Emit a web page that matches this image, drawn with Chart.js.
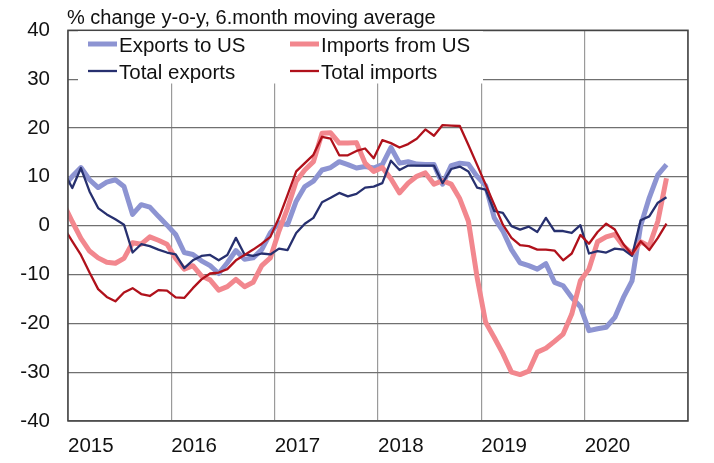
<!DOCTYPE html>
<html>
<head>
<meta charset="utf-8">
<script src="https://cdn.jsdelivr.net/npm/chart.js@4/dist/chart.umd.min.js"></script>
<style>
  html, body { margin: 0; padding: 0; background: #fff; }
</style>
</head>
<body>
<canvas id="chart" width="714" height="463"></canvas>
<script>
'use strict';

// ── Data: monthly, Dec 2014 .. Oct 2020 (first point sits just left of the axis) ──
const START_MONTH = -1;   // months after Jan 2015
const YEARS = ['2015', '2016', '2017', '2018', '2019', '2020'];
const Y_TICKS = [-40, -30, -20, -10, 0, 10, 20, 30, 40];

const exportsToUS = [
  8.0,
  10.1, 11.9, 9.4, 7.8, 8.9, 9.4, 8.0, 2.3, 4.3, 3.8, 1.9, 0.1,
  -1.8, -5.5, -5.9, -7.2, -8.2, -9.8, -7.6, -5.1, -6.9, -6.6, -4.9, -1.5,
  0.6, 0.2, 5.0, 8.0, 9.1, 11.4, 11.9, 13.1, 12.5, 11.8, 12.1, 11.8,
  12.5, 16.0, 12.8, 13.1, 12.6, 12.5, 12.5, 8.5, 12.3, 12.8, 12.6, 10.1,
  8.2, 1.6, -1.1, -4.9, -7.6, -8.2, -8.9, -7.8, -11.6, -12.3, -14.7, -16.6,
  -21.5, -21.1, -20.8, -18.8, -14.7, -11.3, 0.0, 5.7, 10.4, 12.5,
];

const importsFromUS = [
  4.4,
  0.8, -2.6, -5.2, -6.6, -7.5, -7.7, -6.7, -3.5, -3.8, -2.3, -3.0, -3.8,
  -6.7, -8.9, -8.2, -10.3, -11.1, -13.2, -12.5, -11.0, -12.5, -11.6, -8.2, -6.6,
  -1.1, 3.6, 9.1, 11.4, 13.1, 18.9, 19.0, 16.9, 16.9, 17.0, 12.8, 11.1,
  11.9, 9.6, 6.7, 8.7, 10.1, 10.8, 8.5, 9.2, 8.5, 5.5, 0.9, -10.5,
  -19.8, -22.9, -26.2, -30.0, -30.5, -29.8, -25.9, -25.1, -23.7, -22.2, -18.1, -11.3,
  -8.9, -3.3, -2.3, -1.8, -4.2, -5.7, -3.3, -4.2, 0.9, 9.7,
];

const totalExports = [
  11.0,
  7.7, 11.8, 7.0, 3.6, 2.3, 1.3, 0.2, -5.5, -3.8, -4.2, -4.9, -5.5,
  -5.9, -8.7, -7.1, -6.2, -6.0, -7.1, -6.0, -2.5, -5.9, -6.2, -5.7, -5.9,
  -4.7, -5.0, -1.5, 0.4, 1.6, 4.8, 5.7, 6.7, 6.0, 6.5, 7.8, 8.0,
  8.7, 13.3, 11.4, 12.3, 12.3, 12.3, 12.3, 8.7, 11.6, 12.1, 11.1, 7.8,
  7.4, 3.0, 2.6, -0.1, -0.8, -0.2, -1.3, 1.6, -1.1, -1.1, -1.5, 0.1,
  -5.7, -5.2, -5.5, -4.7, -4.9, -6.2, 1.1, 1.9, 4.7, 5.8,
];

const totalImports = [
  -0.4,
  -3.2, -6.0, -9.6, -13.0, -14.6, -15.5, -13.7, -12.8, -14.0, -14.4, -13.2, -13.3,
  -14.7, -14.8, -12.8, -11.0, -9.8, -9.6, -8.9, -7.1, -6.0, -4.9, -3.7, -2.3,
  1.6, 6.3, 11.1, 12.8, 14.5, 18.2, 17.8, 14.4, 14.4, 15.3, 15.8, 13.8,
  17.5, 16.9, 16.0, 16.7, 17.8, 19.7, 18.4, 20.6, 20.5, 20.4, 16.5, 12.5,
  8.4, 4.3, 0.2, -2.5, -4.0, -4.2, -4.9, -4.9, -5.1, -7.1, -5.7, -1.9,
  -3.7, -1.3, 0.4, -0.8, -3.8, -5.9, -3.2, -5.0, -2.5, 0.4,
];

// ── Styling ───────────────────────────────────────────────────────────
const FONT = '"Liberation Sans", Arial, sans-serif';
const TITLE = '% change y-o-y, 6.month moving average';

const SERIES = [
  { label: 'Exports to US',    data: exportsToUS,   color: '#8d94d2', width: 5,   order: 4 },
  { label: 'Imports from US',  data: importsFromUS, color: '#f2878e', width: 5,   order: 3 },
  { label: 'Total exports',    data: totalExports,  color: '#27306f', width: 2.3, order: 2 },
  { label: 'Total imports',    data: totalImports,  color: '#b0111b', width: 2.3, order: 1 },
];

// month index -> mid-month position on the linear x scale
const toPoints = arr => arr.map((v, i) => ({ x: START_MONTH + i + 0.5, y: v }));

// ── Title, legend box and frame drawn on the canvas ───────────────────
const decorPlugin = {
  id: 'decor',
  beforeDatasetsDraw(chart) {
    const ctx = chart.ctx;
    ctx.save();
    ctx.fillStyle = '#fff';
    ctx.fillRect(78, 30.5, 405, 53);
    ctx.restore();
  },
  afterDraw(chart) {
    const ctx = chart.ctx;
    const a = chart.chartArea;
    ctx.save();

    // frame
    ctx.strokeStyle = '#444';
    ctx.lineWidth = 1.5;
    ctx.strokeRect(a.left, a.top, a.right - a.left, a.bottom - a.top);

    // title
    ctx.fillStyle = '#111';
    ctx.font = `20px ${FONT}`;
    ctx.textBaseline = 'alphabetic';
    ctx.textAlign = 'left';
    ctx.fillText(TITLE, 67, 24);

    // legend, 2 x 2
    const cols = [88, 290];
    const rows = [44, 71];
    ctx.font = `20.5px ${FONT}`;
    SERIES.forEach((s, i) => {
      const x = cols[i % 2];
      const y = rows[Math.floor(i / 2)];
      ctx.strokeStyle = s.color;
      ctx.lineWidth = s.width;
      ctx.lineCap = 'butt';
      ctx.beginPath();
      ctx.moveTo(x, y);
      ctx.lineTo(x + 29, y);
      ctx.stroke();
      ctx.fillStyle = '#111';
      ctx.fillText(s.label, x + 31, y + 7.5);
    });
    ctx.restore();
  },
};

// ── Chart ─────────────────────────────────────────────────────────────
new Chart(document.getElementById('chart'), {
  type: 'line',
  data: {
    datasets: SERIES.map(s => ({
      label: s.label,
      data: toPoints(s.data),
      borderColor: s.color,
      backgroundColor: s.color,
      borderWidth: s.width,
      pointRadius: 0,
      tension: 0,
      order: s.order,
      clip: 0,
      borderJoinStyle: 'round',
    })),
  },
  options: {
    responsive: false,
    animation: false,
    devicePixelRatio: 1,
    layout: { padding: { top: 28, right: 26, left: 0, bottom: 0 } },
    plugins: {
      legend: { display: false },
      tooltip: { enabled: false },
    },
    scales: {
      x: {
        type: 'linear',
        min: 0,
        max: 72,
        afterBuildTicks: scale => {
          scale.ticks = YEARS.map((_, i) => ({ value: i * 12 })).concat([{ value: 72 }]);
        },
        afterFit: scale => { scale.height = 42; },
        grid: { color: '#9a9a9a', lineWidth: 1.2, drawTicks: false },
        border: { display: false },
        ticks: {
          align: 'start',
          padding: 13,
          maxRotation: 0,
          autoSkip: false,
          color: '#111',
          font: { family: FONT, size: 20.5 },
          callback: v => YEARS[v / 12] ?? '',
        },
      },
      y: {
        min: -40,
        max: 40,
        afterBuildTicks: scale => {
          scale.ticks = Y_TICKS.map(v => ({ value: v }));
        },
        afterFit: scale => { scale.width = 68; },
        grid: { color: '#707070', lineWidth: 1.2, drawTicks: false },
        border: { display: false },
        ticks: {
          padding: 18,
          color: '#111',
          font: { family: FONT, size: 20.5 },
        },
      },
    },
  },
  plugins: [decorPlugin],
});
</script>
</body>
</html>
